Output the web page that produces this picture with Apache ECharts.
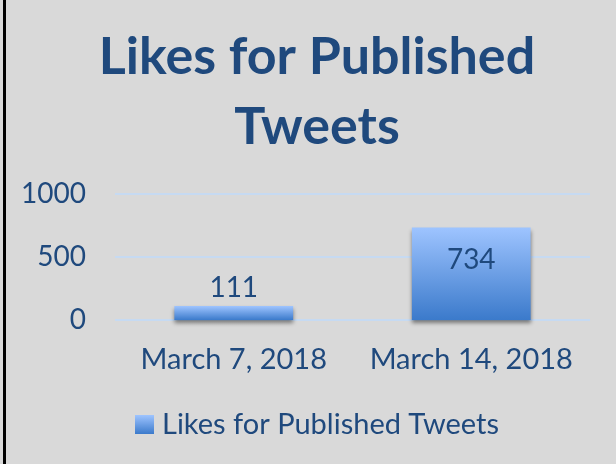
<!DOCTYPE html>
<html>
<head>
<meta charset="utf-8">
<script src="https://cdn.jsdelivr.net/npm/echarts@6/dist/echarts.min.js"></script>
<style>
html,body{margin:0;padding:0;background:#d9d9d9;}
#wrap{position:relative;width:616px;height:464px;}
#main{width:616px;height:464px;}
#edge{position:absolute;left:3px;top:0;width:3px;height:464px;background:#000;}
</style>
</head>
<body>
<div id="wrap"><div id="main"></div><div id="edge"></div></div>
<script>
var titleText = "Likes for Published\nTweets";
var seriesName = "Likes for Published Tweets";
var categories = ["March 7, 2018", "March 14, 2018"];
var likes = [111, 734];
var yMin = 0, yMax = 1000, yStep = 500;

var textColor = "#1f497d";
var fontFam = "Lato, 'Noto Sans', sans-serif";
var barGrad = new echarts.graphic.LinearGradient(0, 0, 0, 1, [
  {offset: 0, color: "#9ec4ff"},
  {offset: 1, color: "#3b7acb"}
]);

var chart = echarts.init(document.getElementById('main'), null, {renderer: 'canvas'});
chart.setOption({
  backgroundColor: "#d9d9d9",
  animation: false,
  title: {
    text: titleText,
    left: 312,
    top: 17,
    textAlign: 'center',
    textStyle: {color: textColor, fontFamily: fontFam, fontWeight: 'bold', fontSize: 52, lineHeight: 70}
  },
  legend: {
    data: [{name: seriesName, icon: 'rect'}],
    left: 130,
    top: 405,
    itemWidth: 19,
    itemHeight: 19,
    itemGap: 8,
    textStyle: {color: textColor, fontFamily: fontFam, fontSize: 29, padding: [0, 0, 0, 3]}
  },
  grid: {left: 115, right: 26, top: 194, bottom: 144},
  xAxis: {
    type: 'category',
    data: categories,
    axisLine: {show: false},
    axisTick: {show: false},
    axisLabel: {color: textColor, fontFamily: fontFam, fontSize: 29, margin: 25, interval: 0, hideOverlap: false}
  },
  yAxis: {
    type: 'value',
    min: yMin, max: yMax, interval: yStep,
    axisLine: {show: false},
    axisTick: {show: false},
    axisLabel: {color: textColor, fontFamily: fontFam, fontSize: 28, margin: 29,
      formatter: function (v) { return String(v); }},
    splitLine: {lineStyle: {color: "#c6daf2", width: 2}}
  },
  series: [{
    name: seriesName,
    type: 'bar',
    data: likes,
    barWidth: '50%',
    itemStyle: {
      color: barGrad,
      shadowColor: 'rgba(0,0,0,0.45)',
      shadowBlur: 4,
      shadowOffsetY: 3
    },
    label: {
      show: true,
      color: textColor,
      fontFamily: fontFam,
      fontSize: 28,
      formatter: function (p) { return p.value; },
      position: 'top',
      distance: 4
    }
  }]
});
chart.setOption({
  series: [{
    data: [likes[0], {value: likes[1], label: {position: 'insideTop', distance: 18}}]
  }]
});
</script>
</body>
</html>
